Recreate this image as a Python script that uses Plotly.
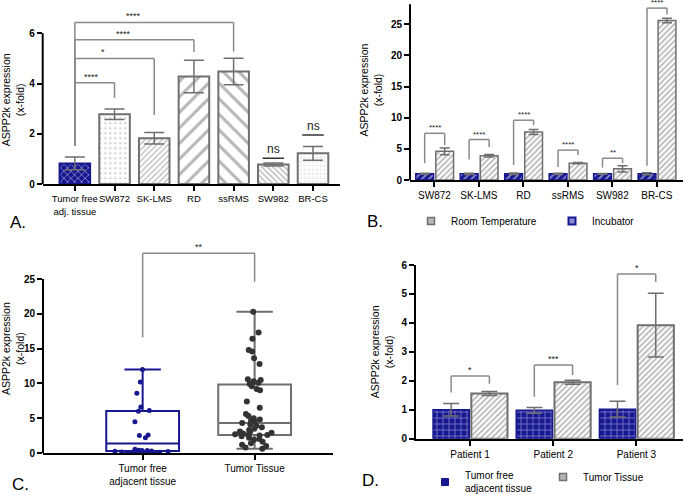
import plotly.graph_objects as go

W, H = 685, 495
FONT = "Arial, Liberation Sans, sans-serif"
NAVY = "#17178f"
GREY = "#6f6f6f"
BRK = "#8a8a8a"

# ---------------- Panel A data ----------------
a_cats = ["Tumor free<br>adj. tissue", "SW872", "SK-LMS", "RD", "ssRMS", "SW982", "BR-CS"]
a_vals = [0.82, 2.78, 1.82, 4.28, 4.48, 0.78, 1.22]
a_err = [0.25, 0.21, 0.23, 0.65, 0.53, 0.06, 0.27]
a_pat_shape = ["x", ".", "/", "/", "\\", "\\", "."]
a_pat_size = [5, 5, 4, 11, 11, 4, 4]
a_pat_solid = [0.3, 0.12, 0.3, 0.28, 0.28, 0.35, 0.12]
a_pat_fg = ["white", GREY, GREY, GREY, GREY, GREY, "#8a8a8a"]
a_pat_bg = [NAVY, "white", "white", "white", "white", "white", "white"]
a_line = [NAVY, GREY, GREY, GREY, GREY, GREY, GREY]
a_ticks = [0, 2, 4, 6]
# brackets: (left idx, right idx, top, left bottom, right bottom, label, label x)
a_brackets = [
    (0, 1, 4.03, 1.52, 3.42, "****", 0.42),
    (0, 2, 5.00, 1.52, 2.75, "*", 0.72),
    (0, 3, 5.74, 1.52, 5.25, "****", 1.22),
    (0, 4, 6.43, 1.52, 5.27, "****", 1.48),
]
a_ns = [(5, 1.03), (6, 1.95)]

# ---------------- Panel B data ----------------
b_cats = ["SW872", "SK-LMS", "RD", "ssRMS", "SW982", "BR-CS"]
b_incub = [1.0, 1.0, 1.0, 1.0, 1.0, 1.0]
b_incub_err = [0.08, 0.1, 0.12, 0.1, 0.06, 0.15]
b_room = [4.6, 3.9, 7.7, 2.7, 1.8, 25.6]
b_room_err = [0.55, 0.2, 0.4, 0.1, 0.5, 0.35]
b_ticks = [0, 5, 10, 15, 20, 25]
b_brackets = [  # top, left bottom, right bottom, label
    (7.5, 2.7, 5.6, "****"),
    (6.5, 3.3, 5.3, "****"),
    (9.6, 2.4, 8.8, "****"),
    (4.8, 2.1, 4.0, "****"),
    (3.5, 2.0, 2.7, "**"),
    (27.6, 2.3, 26.6, "****"),
]

# ---------------- Panel C data ----------------
c_cats = ["Tumor free<br>adjacent tissue", "Tumor Tissue"]
c_free = [0.1, 0.15, 0.2, 0.25, 0.3, 0.3, 0.35, 0.35, 0.4, 0.55,
          2.2, 2.5, 2.6, 4.5, 6.0, 6.1, 6.6, 8.6, 10.2, 12.0]
c_tumor = [20.3, 17.3, 16.4, 14.8, 14.6, 13.6, 12.8, 10.6, 10.5, 10.3, 10.1, 9.9,
           9.6, 9.2, 9.0, 7.4, 6.5, 5.6, 5.3, 5.0, 4.8, 4.6, 4.5, 4.3,
           4.1, 3.9, 3.7, 3.5, 3.3, 3.1, 3.0, 2.9, 2.8, 2.7, 2.6, 2.6,
           2.5, 2.4, 2.2, 2.0, 1.9, 1.6, 1.4, 1.2, 1.0, 0.8, 0.6]
c_ticks = [0, 5, 10, 15, 20, 25]
c_bracket = (28.7, 16.6, 24.6, "**")

# ---------------- Panel D data ----------------
d_cats = ["Patient 1", "Patient 2", "Patient 3"]
d_free = [1.0, 0.98, 1.02]
d_free_err = [0.22, 0.1, 0.27]
d_tumor = [1.56, 1.95, 3.92]
d_tumor_err = [0.07, 0.07, 1.1]
d_ticks = [0, 1, 2, 3, 4, 5, 6]
d_brackets = [
    (2.17, 1.6, 1.9, "*"),
    (2.55, 1.45, 2.2, "***"),
    (5.69, 1.85, 5.41, "*"),
]

# bar geometry (data units within a category slot)
B_W, B_OFF_L, B_OFF_R = 0.4, -0.42, 0.03
D_W, D_OFF_L, D_OFF_R = 0.435, -0.445, 0.015

fig = go.Figure()

# Panel A bars
fig.add_trace(go.Bar(
    x=a_cats, y=a_vals, width=0.77, xaxis="x", yaxis="y", showlegend=False,
    marker=dict(color="white", line=dict(color=a_line, width=2),
                pattern=dict(shape=a_pat_shape, size=a_pat_size, solidity=a_pat_solid,
                             fgcolor=a_pat_fg, bgcolor=a_pat_bg)),
    error_y=dict(type="data", array=a_err, color=GREY, thickness=1.5, width=10),
))

# Panel B bars
fig.add_trace(go.Bar(
    x=b_cats, y=b_incub, width=B_W, offset=B_OFF_L, xaxis="x2", yaxis="y2", showlegend=False,
    marker=dict(color=NAVY, line=dict(color=NAVY, width=1.5),
                pattern=dict(shape="/", size=5, solidity=0.35, fgcolor="white", bgcolor=NAVY)),
    error_y=dict(type="data", array=b_incub_err, color=GREY, thickness=1.5, width=5),
))
fig.add_trace(go.Bar(
    x=b_cats, y=b_room, width=B_W, offset=B_OFF_R, xaxis="x2", yaxis="y2", showlegend=False,
    marker=dict(color="white", line=dict(color=GREY, width=1.5),
                pattern=dict(shape="/", size=4, solidity=0.45, fgcolor=GREY, bgcolor="white")),
    error_y=dict(type="data", array=b_room_err, color=GREY, thickness=1.5, width=5),
))
fig.add_trace(go.Scatter(x=[None], y=[None], mode="markers", name="Room Temperature",
                         xaxis="x2", yaxis="y2", legend="legend",
                         marker=dict(symbol="square", size=7, color="#b5b5b5",
                                     line=dict(color=GREY, width=1.5))))
fig.add_trace(go.Scatter(x=[None], y=[None], mode="markers", name="Incubator",
                         xaxis="x2", yaxis="y2", legend="legend",
                         marker=dict(symbol="square", size=7, color="#8c8cd0",
                                     line=dict(color=NAVY, width=2))))

# Panel C boxes
fig.add_trace(go.Box(
    y=c_free, name=c_cats[0], xaxis="x3", yaxis="y3", showlegend=False,
    boxpoints="all", jitter=0.9, pointpos=0, width=0.65, whiskerwidth=0.5,
    fillcolor="rgba(0,0,0,0)", line=dict(color=NAVY, width=2),
    marker=dict(color=NAVY, size=5),
))
fig.add_trace(go.Box(
    y=c_tumor, name=c_cats[1], xaxis="x3", yaxis="y3", showlegend=False,
    boxpoints="all", jitter=0.55, pointpos=0, width=0.65, whiskerwidth=0.5,
    fillcolor="rgba(0,0,0,0)", line=dict(color=GREY, width=2),
    marker=dict(color="#333333", size=6),
))

# Panel D bars
fig.add_trace(go.Bar(
    x=d_cats, y=d_free, width=D_W, offset=D_OFF_L, xaxis="x4", yaxis="y4", showlegend=False,
    marker=dict(color=NAVY, line=dict(color=NAVY, width=1.5),
                pattern=dict(shape="+", size=6, solidity=0.3, fgcolor="#c8c8ff", bgcolor=NAVY)),
    error_y=dict(type="data", array=d_free_err, color=GREY, thickness=1.5, width=8),
))
fig.add_trace(go.Bar(
    x=d_cats, y=d_tumor, width=D_W, offset=D_OFF_R, xaxis="x4", yaxis="y4", showlegend=False,
    marker=dict(color="white", line=dict(color=GREY, width=2),
                pattern=dict(shape="/", size=4, solidity=0.45, fgcolor=GREY, bgcolor="white")),
    error_y=dict(type="data", array=d_tumor_err, color=GREY, thickness=1.5, width=8),
))
fig.add_trace(go.Scatter(x=[None], y=[None], mode="markers", name="Tumor free<br>adjacent tissue",
                         xaxis="x4", yaxis="y4", legend="legend2",
                         marker=dict(symbol="square", size=7, color=NAVY,
                                     line=dict(color=NAVY, width=1))))
fig.add_trace(go.Scatter(x=[None], y=[None], mode="markers", name="Tumor Tissue",
                         xaxis="x4", yaxis="y4", legend="legend2",
                         marker=dict(symbol="square", size=7, color="#b5b5b5",
                                     line=dict(color=GREY, width=1.5))))

shapes = []
annotations = []


def bracket(xr, yr, xl, xrr, top, lb, rb, label, lx, fs=9):
    ln = dict(color=BRK, width=1.5)
    shapes.append(dict(type="line", xref=xr, yref=yr, x0=xl, x1=xl, y0=lb, y1=top, line=ln))
    shapes.append(dict(type="line", xref=xr, yref=yr, x0=xl, x1=xrr, y0=top, y1=top, line=ln))
    shapes.append(dict(type="line", xref=xr, yref=yr, x0=xrr, x1=xrr, y0=top, y1=rb, line=ln))
    annotations.append(dict(xref=xr, yref=yr, x=lx, y=top, text=label, showarrow=False,
                            yanchor="bottom", yshift=-1, font=dict(size=fs, color="#222")))


for l, r, top, lb, rb, lab, lx in a_brackets:
    bracket("x", "y", l, r, top, lb, rb, lab, lx)
for i, y in a_ns:
    shapes.append(dict(type="line", xref="x", yref="y", x0=i - 0.27, x1=i + 0.27, y0=y, y1=y,
                       line=dict(color="#333", width=1.5)))
    annotations.append(dict(xref="x", yref="y", x=i, y=y, text="ns", showarrow=False,
                            yanchor="bottom", yshift=0, font=dict(size=12, color="#222")))

for i, (top, lb, rb, lab) in enumerate(b_brackets):
    xl = i + B_OFF_L + B_W / 2
    xr = i + B_OFF_R + B_W / 2
    bracket("x2", "y2", xl, xr, top, lb, rb, lab, (xl + xr) / 2, fs=8)

top, lb, rb, lab = c_bracket
bracket("x3", "y3", 0, 1, top, lb, rb, lab, 0.5, fs=9)

for i, (top, lb, rb, lab) in enumerate(d_brackets):
    xl = i + D_OFF_L + D_W / 2
    xr = i + D_OFF_R + D_W / 2
    bracket("x4", "y4", xl, xr, top, lb, rb, lab, (xl + xr) / 2, fs=9)

# y axis lines that stop at the top tick
for yr, xr, ytop in [("y", "x", 6), ("y2", "x2", 28.2), ("y3", "x3", 25)]:
    shapes.append(dict(type="line", xref=xr + " domain", yref=yr, x0=0, x1=0, y0=0, y1=ytop,
                       line=dict(color="black", width=2)))

for txt, x, y in [("A.", 8, 222), ("B.", 365, 221), ("C.", 10, 484), ("D.", 360, 480)]:
    annotations.append(dict(xref="paper", yref="paper", x=x / W, y=1 - y / H, text=txt,
                            showarrow=False, xanchor="left", yanchor="middle",
                            font=dict(size=17, color="black")))


def xax(dom, rng, anchor, fs=10):
    return dict(domain=dom, range=rng, type="category", anchor=anchor, showline=True,
                linecolor="black", linewidth=2, ticks="outside", ticklen=5, tickwidth=1.5,
                tickcolor="black", showgrid=False, zeroline=False, tickangle=0,
                tickfont=dict(size=fs, color="black"), fixedrange=True, automargin=False)


def yax(dom, rng, anchor, tv, line=False):
    return dict(domain=dom, range=rng, anchor=anchor, showline=line, linecolor="black",
                linewidth=2, ticks="outside", ticklen=5, tickwidth=1.5, tickcolor="black",
                tickvals=tv, ticktext=["<b>%g</b>" % v for v in tv],
                showgrid=False, zeroline=False, automargin=False, fixedrange=True,
                tickfont=dict(size=10, color="black"),
                title=dict(text="ASPP2k expression<br>(x-fold)", font=dict(size=10.5, color="black"),
                           standoff=6))


fig.update_layout(
    width=W, height=H, margin=dict(l=0, r=0, t=0, b=0, autoexpand=False),
    paper_bgcolor="white", plot_bgcolor="white",
    font=dict(family=FONT, color="black"),
    xaxis=xax([42.7 / W, 340 / W], [-0.81, 6.68], "y", fs=9.5),
    yaxis=yax([1 - 184 / H, 1 - 15.7 / H], [0, 6.7], "x", a_ticks),
    xaxis2=xax([410 / W, 683 / W], [-0.55, 5.59], "y2"),
    yaxis2=yax([1 - 180 / H, 1.0], [0, 28.9], "x2", b_ticks),
    xaxis3=xax([43 / W, 333 / W], [-0.89, 1.70], "y3"),
    yaxis3=yax([1 - 453 / H, 1 - 244.2 / H], [0, 30], "x3", c_ticks),
    xaxis4=xax([416 / W, 683 / W], [-0.65, 2.56], "y4"),
    yaxis4=yax([1 - 438.7 / H, 1 - 265 / H], [0, 6], "x4", d_ticks, line=True),
    shapes=shapes, annotations=annotations,
    showlegend=True,
    legend=dict(orientation="h", x=411 / W, y=1 - 221 / H, xanchor="left", yanchor="middle",
                font=dict(size=10), bgcolor="rgba(0,0,0,0)", entrywidth=96, itemwidth=30),
    legend2=dict(orientation="h", x=425 / W, y=1 - 482 / H, xanchor="left", yanchor="middle",
                 font=dict(size=10), bgcolor="rgba(0,0,0,0)", entrywidth=73, itemwidth=30,
                 valign="middle"),
)

fig.write_html("out.html", config={"displayModeBar": False},
               post_script="document.body.style.margin='0';document.body.style.overflow='hidden';")
